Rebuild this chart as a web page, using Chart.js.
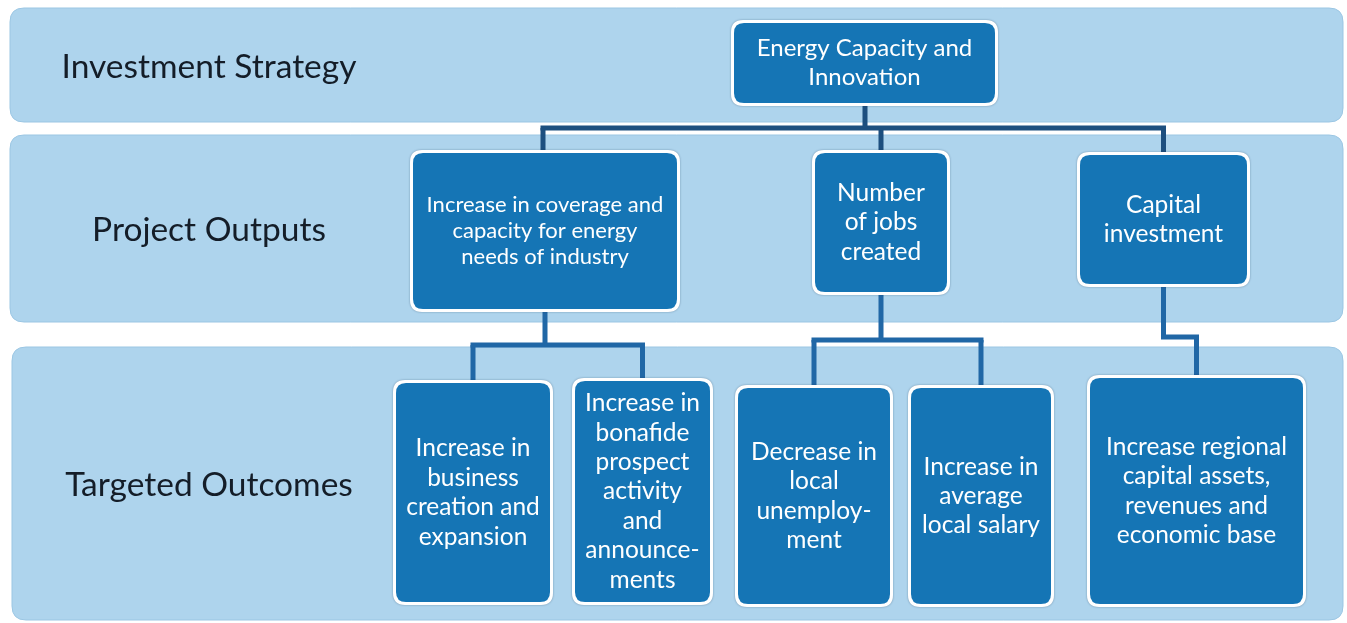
<!DOCTYPE html>
<html lang="en">
<head>
<meta charset="UTF-8">
<style>
  body { margin: 0; background: #fff; }
  #wrap { width: 1347px; height: 623px; }
</style>
</head>
<body>
<div id="wrap"><canvas id="myChart" width="1347" height="623"></canvas></div>
<script src="https://cdn.jsdelivr.net/npm/chart.js@4.4.0/dist/chart.umd.min.js"></script>
<script>
// diagram content
const bandLabels = ['Investment Strategy', 'Project Outputs', 'Targeted Outcomes'];
const nodeText = [
  ['Energy Capacity and', 'Innovation'],
  ['Increase in coverage and', 'capacity for energy', 'needs of industry'],
  ['Number', 'of jobs', 'created'],
  ['Capital', 'investment'],
  ['Increase in', 'business', 'creation and', 'expansion'],
  ['Increase in', 'bonafide', 'prospect', 'activity', 'and', 'announce-', 'ments'],
  ['Decrease in', 'local', 'unemploy-', 'ment'],
  ['Increase in', 'average', 'local salary'],
  ['Increase regional', 'capital assets,', 'revenues and', 'economic base']
];
const nodeParent = [-1, 0, 0, 0, 1, 1, 2, 2, 3];

// layout (diagram units = px of the 1347x623 frame)
const bandBox = [[10, 8, 1343, 122], [10, 135, 1343, 322], [12, 347, 1343, 620]];
const nodeBox = [
  [731, 20, 998, 106],
  [410, 150, 680, 312],
  [812, 150, 950, 295],
  [1077, 152, 1250, 287],
  [393, 380, 553, 605],
  [572, 378, 713, 605],
  [735, 385, 893, 607],
  [908, 385, 1054, 607],
  [1087, 375, 1306, 607]
];
const nodeFont = [24, 22, 24.5, 24.5, 24.5, 24.5, 24.5, 24.5, 24.5];
const busY = { 0: 128, 1: 345, 2: 340, 3: 337 };

const cx = i => (nodeBox[i][0] + nodeBox[i][2]) / 2;

// build connector segments from parent links
const connectors = [];
Object.keys(busY).forEach(k => {
  const p = +k;
  const kids = nodeParent.map((v, i) => v === p ? i : -1).filter(i => i >= 0);
  const by = busY[p];
  const col = p === 0 ? '#1d4f7f' : '#2067a6';
  const px = p === 0 ? 865 : cx(p);
  const xs = kids.map(i => p === 0 && i === 1 ? 543 : cx(i));
  connectors.push({ pts: [{x: px, y: nodeBox[p][3]}, {x: px, y: by}], col });
  connectors.push({ pts: [{x: Math.min(px, ...xs) - 2.5, y: by}, {x: Math.max(px, ...xs) + 2.5, y: by}], col });
  kids.forEach((i, j) => {
    connectors.push({ pts: [{x: xs[j], y: by}, {x: xs[j], y: nodeBox[i][1]}], col });
  });
});

function roundRect(ctx, x0, y0, x1, y1, r) {
  ctx.beginPath();
  ctx.moveTo(x0 + r, y0);
  ctx.lineTo(x1 - r, y0);
  ctx.quadraticCurveTo(x1, y0, x1, y0 + r);
  ctx.lineTo(x1, y1 - r);
  ctx.quadraticCurveTo(x1, y1, x1 - r, y1);
  ctx.lineTo(x0 + r, y1);
  ctx.quadraticCurveTo(x0, y1, x0, y1 - r);
  ctx.lineTo(x0, y0 + r);
  ctx.quadraticCurveTo(x0, y0, x0 + r, y0);
  ctx.closePath();
}

const diagram = {
  id: 'diagram',
  beforeDatasetsDraw(chart) {
    const { ctx, scales: { x, y } } = chart;
    ctx.save();
    bandBox.forEach((b, i) => {
      const x0 = x.getPixelForValue(b[0]), x1 = x.getPixelForValue(b[2]);
      const y0 = y.getPixelForValue(b[1]), y1 = y.getPixelForValue(b[3]);
      roundRect(ctx, x0, y0, x1, y1, 14);
      ctx.fillStyle = '#aed4ed';
      ctx.fill();
      ctx.strokeStyle = '#9bc6e3';
      ctx.lineWidth = 1;
      ctx.stroke();
      ctx.fillStyle = '#141d28';
      ctx.font = '33.5px Lato';
      ctx.textAlign = 'center';
      ctx.textBaseline = 'middle';
      ctx.fillText(bandLabels[i], x.getPixelForValue(209), (y0 + y1) / 2 + 2);
    });
    ctx.restore();
  },
  afterDatasetsDraw(chart) {
    const { ctx, scales: { x, y } } = chart;
    ctx.save();
    nodeBox.forEach((b, i) => {
      const x0 = x.getPixelForValue(b[0]), x1 = x.getPixelForValue(b[2]);
      const y0 = y.getPixelForValue(b[1]), y1 = y.getPixelForValue(b[3]);
      ctx.shadowColor = 'rgba(20,50,80,0.45)';
      ctx.shadowBlur = 2;
      roundRect(ctx, x0, y0, x1, y1, 12);
      ctx.fillStyle = '#ffffff';
      ctx.fill();
      ctx.shadowColor = 'transparent';
      roundRect(ctx, x0 + 3, y0 + 3, x1 - 3, y1 - 3, 10);
      ctx.fillStyle = '#1575b5';
      ctx.fill();
      const lines = nodeText[i];
      const fs = nodeFont[i];
      const lh = fs * 1.2;
      const my = (y0 + y1) / 2;
      ctx.fillStyle = '#ffffff';
      ctx.font = fs + 'px Lato';
      ctx.textAlign = 'center';
      ctx.textBaseline = 'middle';
      lines.forEach((t, j) => {
        ctx.fillText(t, (x0 + x1) / 2, my + (j - (lines.length - 1) / 2) * lh);
      });
    });
    ctx.restore();
  }
};

new Chart(document.getElementById('myChart'), {
  type: 'scatter',
  data: {
    datasets: connectors.map(c => ({
      data: c.pts,
      showLine: true,
      borderColor: c.col,
      borderWidth: 5,
      borderCapStyle: 'butt',
      pointRadius: 0,
      pointHoverRadius: 0,
      clip: false
    }))
  },
  options: {
    responsive: false,
    animation: false,
    layout: { padding: 0 },
    plugins: { legend: { display: false }, tooltip: { enabled: false } },
    events: [],
    scales: {
      x: { type: 'linear', min: 0, max: 1347, display: false },
      y: { type: 'linear', min: 0, max: 623, reverse: true, display: false }
    }
  },
  plugins: [diagram]
});
</script>
</body>
</html>
